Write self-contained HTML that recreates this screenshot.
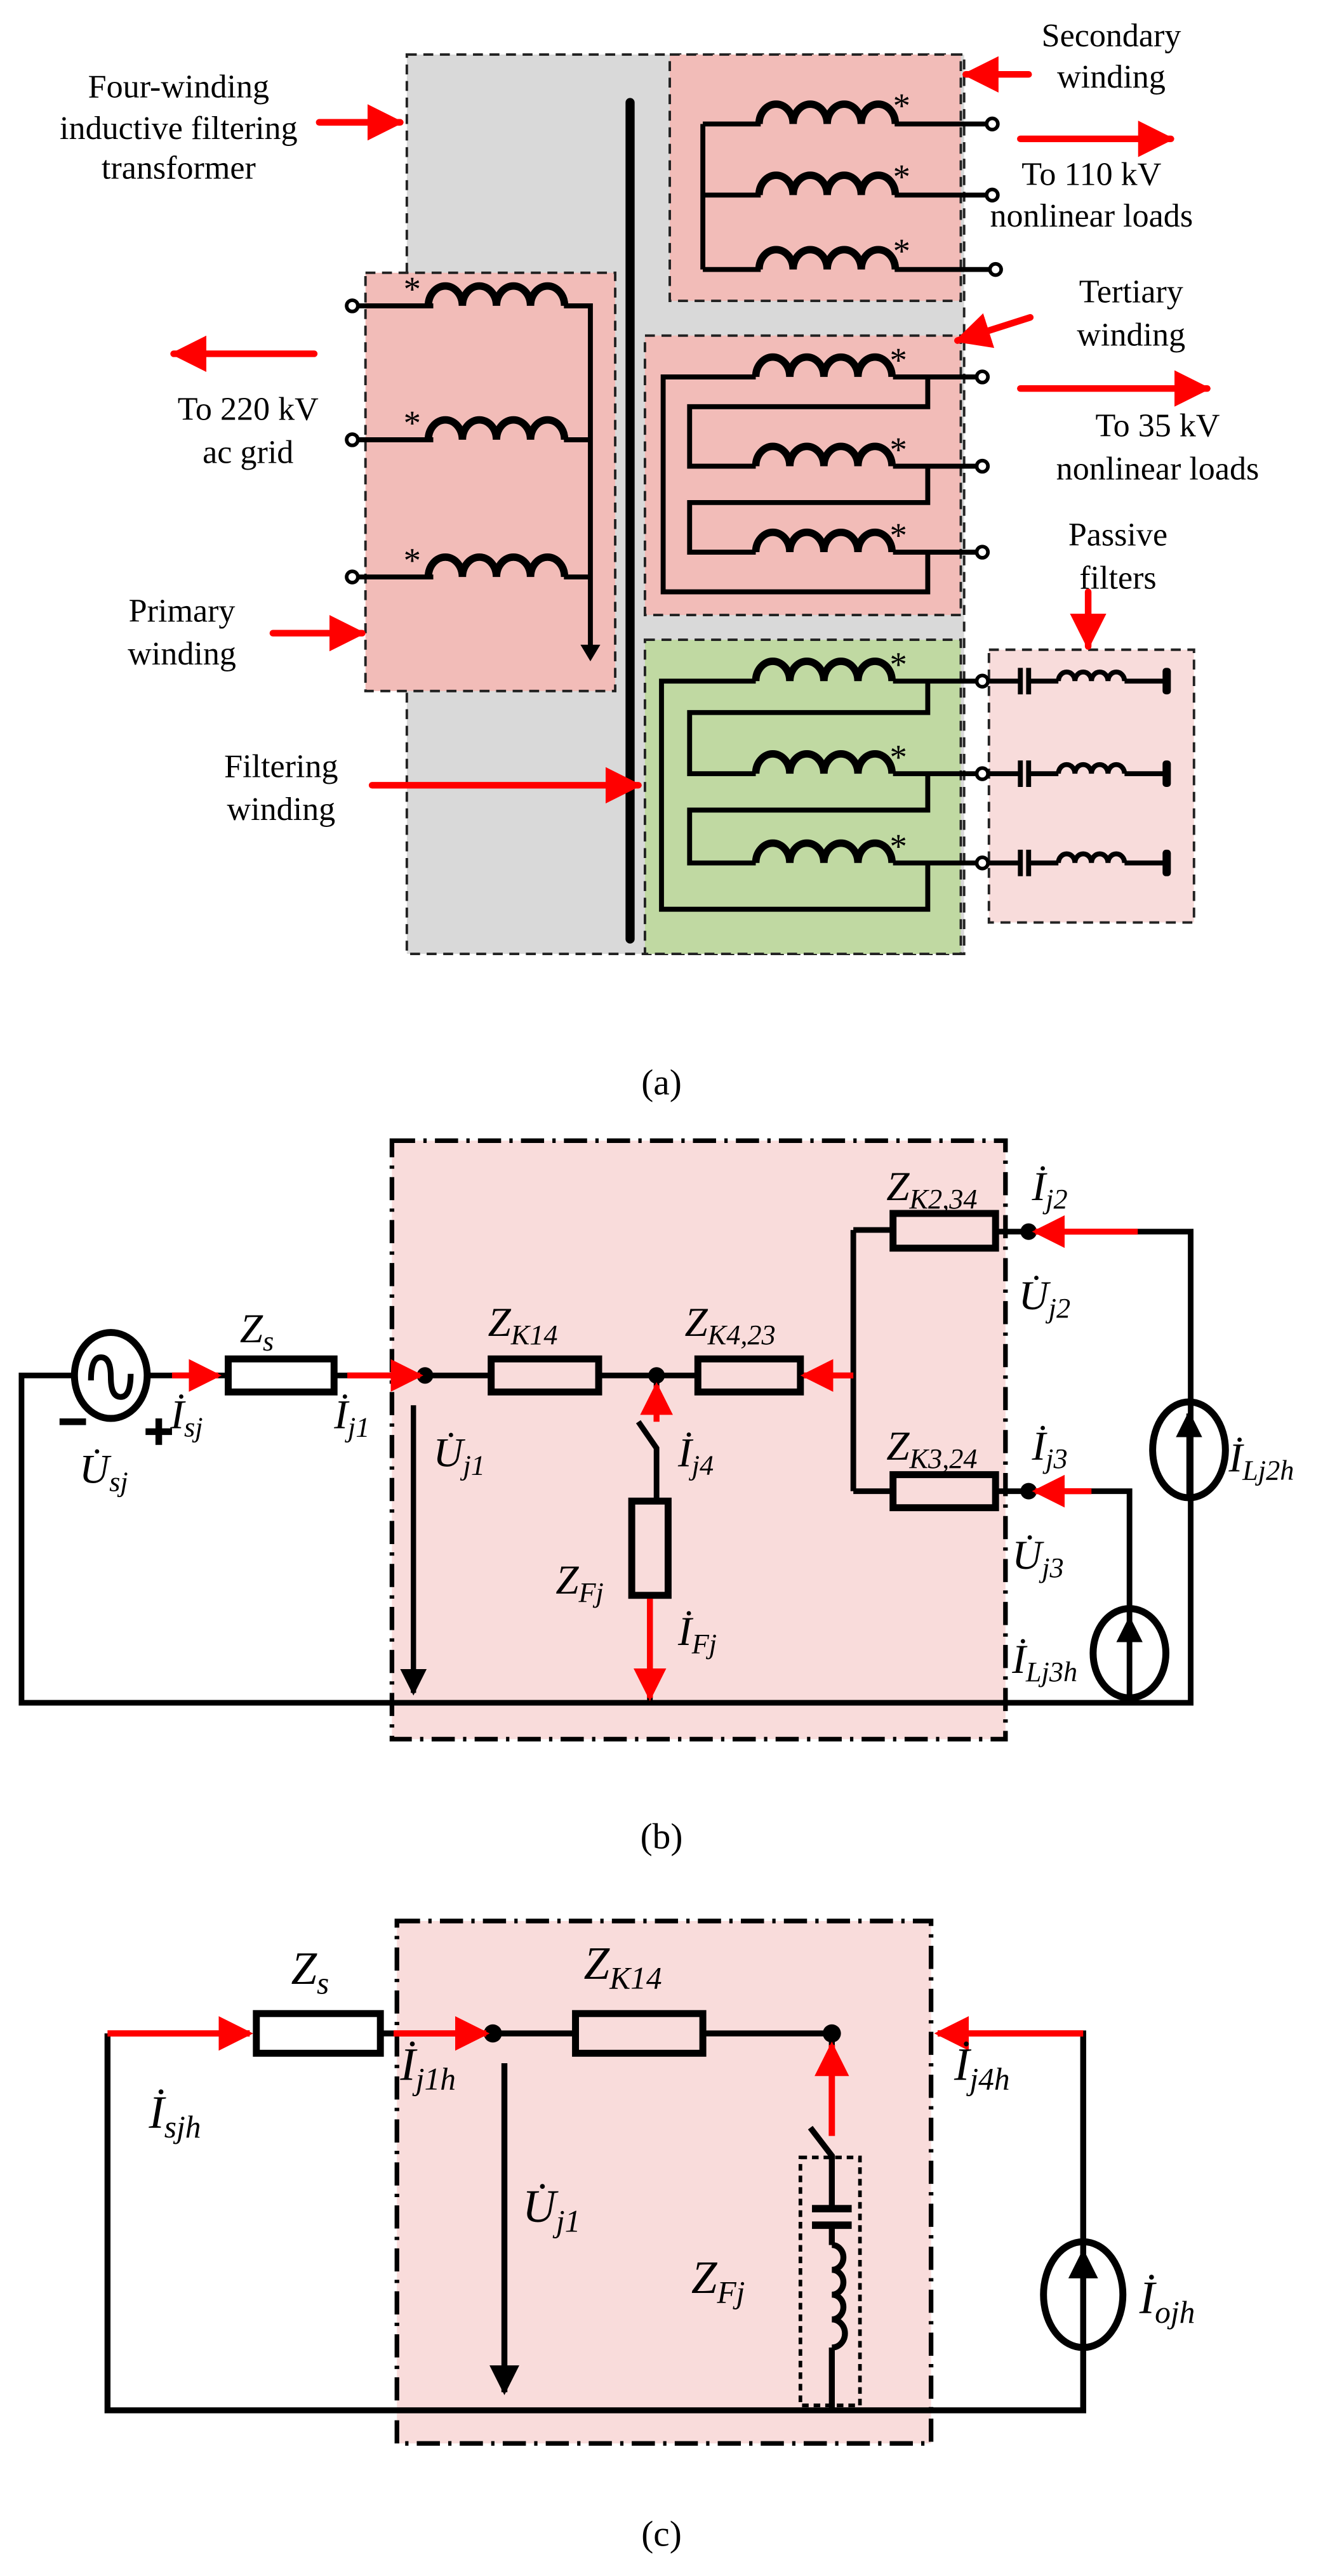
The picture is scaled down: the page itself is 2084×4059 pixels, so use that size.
<!DOCTYPE html>
<html><head><meta charset="utf-8"><style>
html,body{margin:0;padding:0;background:#fff;}
svg{display:block;font-family:"Liberation Serif",serif;}
text{font-family:"Liberation Serif",serif;fill:#000;}
.it{font-style:italic;}
</style></head><body>
<svg width="2084" height="4059" viewBox="0 0 800 1558.2" xmlns="http://www.w3.org/2000/svg" font-family="Liberation Serif, serif">
<defs>
<marker id="ra" viewBox="0 0 10 10" refX="9" refY="5" markerWidth="5.5" markerHeight="5.5" orient="auto" markerUnits="strokeWidth"><path d="M0,0 L10,5 L0,10 z" fill="#f00"/></marker>
<marker id="ba" viewBox="0 0 10 10" refX="9" refY="5" markerWidth="5" markerHeight="5" orient="auto" markerUnits="strokeWidth"><path d="M0,0 L10,5 L0,10 z" fill="#000"/></marker>
<g id="coil"><path d="M0,0 a10.3,12 0 0 1 20.6,0 a10.3,12 0 0 1 20.6,0 a10.3,12 0 0 1 20.6,0 a10.3,12 0 0 1 20.6,0" fill="none" stroke="#000" stroke-width="4.5"/></g>
<g id="scoil"><path d="M0,0 a5,5.5 0 0 1 10,0 a5,5.5 0 0 1 10,0 a5,5.5 0 0 1 10,0 a5,5.5 0 0 1 10,0" fill="none" stroke="#000" stroke-width="3"/></g>
</defs>

<!-- ===== (a) ===== -->
<g stroke="#222" stroke-width="1.5" stroke-dasharray="6,4">
<rect x="246" y="33" width="337" height="544" fill="#d9d9d9"/>
<rect x="405" y="33" width="176" height="149" fill="#f2bcb8"/>
<rect x="221" y="165" width="151" height="253" fill="#f2bcb8"/>
<rect x="390" y="203" width="191" height="169" fill="#f2bcb8"/>
<rect x="390" y="387" width="191" height="190" fill="#c0d9a2"/>
<rect x="598" y="393" width="124" height="165" fill="#f8dcdb"/>
</g>
<line x1="381" y1="62" x2="381" y2="568" stroke="#000" stroke-width="5.5" stroke-linecap="round"/>

<g stroke="#000" stroke-width="3" fill="none">
<!-- secondary -->
<path d="M425,75 V163 M425,75 H460 M425,118 H460 M425,163 H460 M541,75 H597 M541,118 H597 M541,163 H599"/>
<!-- tertiary -->
<path d="M457,228 H401 V358 H561 V334 M540,228 H591 M561,228 V246 H417 V282 H457 M540,282 H591 M561,282 V304 H417 V334 H457 M540,334 H591"/>
<!-- green -->
<path d="M457,412 H400 V550 H561 V522 M540,412 H591 M561,412 V431 H417 V468 H457 M540,468 H591 M561,468 V490 H417 V522 H457 M540,522 H591"/>
<!-- filters -->
<path d="M597,412 H617 M622,412 H640 M680,412 H704 M597,468 H617 M622,468 H640 M680,468 H704 M597,522 H617 M622,522 H640 M680,522 H704"/>
<path d="M617,404 V420 M622,404 V420 M617,460 V476 M622,460 V476 M617,514 V530 M622,514 V530"/>
<!-- primary -->
<path d="M216,185 H262 M216,266 H262 M216,349 H262 M341,185 H357 V392 M341,266 H357 M341,349 H357"/>
</g>
<path d="M351,390 L357,400 L363,390 z" fill="#000"/>
<g fill="#000"><rect x="703" y="404" width="5" height="16" rx="2"/><rect x="703" y="460" width="5" height="16" rx="2"/><rect x="703" y="514" width="5" height="16" rx="2"/></g>
<g fill="#fff" stroke="#000" stroke-width="2.2">
<circle cx="600" cy="75" r="3.4"/><circle cx="600" cy="118" r="3.4"/><circle cx="602" cy="163" r="3.4"/>
<circle cx="594" cy="228" r="3.4"/><circle cx="594" cy="282" r="3.4"/><circle cx="594" cy="334" r="3.4"/>
<circle cx="594" cy="412" r="3.4"/><circle cx="594" cy="468" r="3.4"/><circle cx="594" cy="522" r="3.4"/>
<circle cx="213" cy="185" r="3.4"/><circle cx="213" cy="266" r="3.4"/><circle cx="213" cy="349" r="3.4"/>
</g>
<use href="#coil" x="459" y="75"/><use href="#coil" x="459" y="118"/><use href="#coil" x="459" y="163"/>
<use href="#coil" x="457" y="228"/><use href="#coil" x="457" y="282"/><use href="#coil" x="457" y="334"/>
<use href="#coil" x="457" y="412"/><use href="#coil" x="457" y="468"/><use href="#coil" x="457" y="522"/>
<use href="#coil" x="259" y="185"/><use href="#coil" x="259" y="266"/><use href="#coil" x="259" y="349"/>
<use href="#scoil" x="640" y="412"/><use href="#scoil" x="640" y="468"/><use href="#scoil" x="640" y="522"/>
<g font-size="21">
<text x="540" y="71">*</text><text x="540" y="114">*</text><text x="540" y="159">*</text>
<text x="538" y="225">*</text><text x="538" y="279">*</text><text x="538" y="331">*</text>
<text x="538" y="409">*</text><text x="538" y="465">*</text><text x="538" y="519">*</text>
<text x="244" y="182">*</text><text x="244" y="263">*</text><text x="244" y="346">*</text>
</g>
<g stroke="#f00" stroke-width="4" fill="none" stroke-linecap="round">
<line x1="193" y1="74" x2="242" y2="74" marker-end="url(#ra)"/>
<line x1="190" y1="214" x2="105" y2="214" marker-end="url(#ra)"/>
<line x1="165" y1="383" x2="219" y2="383" marker-end="url(#ra)"/>
<line x1="225" y1="475" x2="386" y2="475" marker-end="url(#ra)"/>
<line x1="622" y1="45" x2="584" y2="45" marker-end="url(#ra)"/>
<line x1="617" y1="84" x2="708" y2="84" marker-end="url(#ra)"/>
<line x1="623" y1="192" x2="579" y2="206" marker-end="url(#ra)"/>
<line x1="617" y1="235" x2="730" y2="235" marker-end="url(#ra)"/>
<line x1="658" y1="358" x2="658" y2="391" marker-end="url(#ra)"/>
</g>
<g font-size="20" text-anchor="middle">
<text x="108" y="59">Four-winding</text><text x="108" y="84">inductive filtering</text><text x="108" y="108">transformer</text>
<text x="150" y="254">To 220 kV</text><text x="150" y="280">ac grid</text>
<text x="110" y="376">Primary</text><text x="110" y="402">winding</text>
<text x="170" y="470">Filtering</text><text x="170" y="496">winding</text>
<text x="672" y="28">Secondary</text><text x="672" y="53">winding</text>
<text x="660" y="112">To 110 kV</text><text x="660" y="137">nonlinear loads</text>
<text x="684" y="183">Tertiary</text><text x="684" y="209">winding</text>
<text x="700" y="264">To 35 kV</text><text x="700" y="290">nonlinear loads</text>
<text x="676" y="330">Passive</text><text x="676" y="356">filters</text>
<text x="400" y="662" font-size="22">(a)</text>
</g>

<!-- ===== (b) ===== -->
<rect x="237" y="690" width="371" height="362" fill="#f9dcdb" stroke="#000" stroke-width="2.8" stroke-dasharray="14,5,2,5"/>
<g stroke="#000" stroke-width="3.4" fill="none">
<path d="M45,832 H13 V1030 H720 V745 H622 M89,832 H138 M202,832 H297 M362,832 H422 M484,832 H516 M516,744 V902 M516,744 H540 M516,902 H540 M602,745 H622 M602,902 H683 V1030"/>
<path d="M397,832 V855 M386,860 L397,876 V908 M393,965 V1030"/>
</g>
<g stroke="#000" stroke-width="4.2" fill="none">
<rect x="138" y="822" width="64" height="20"/><rect x="297" y="822" width="65" height="20"/><rect x="422" y="822" width="62" height="20"/>
<rect x="540" y="734" width="62" height="21"/><rect x="540" y="892" width="62" height="20"/>
<rect x="382" y="908" width="22" height="57"/>
<ellipse cx="67" cy="832" rx="22" ry="26"/>
<path d="M55,835 q0,-14 6,-14 q6,0 6,12 q0,12 6,12 q6,0 6,-14" stroke-width="3.5"/>
<ellipse cx="719" cy="877" rx="22" ry="29"/><ellipse cx="683" cy="1000" rx="22" ry="27"/>
</g>
<g stroke="#000" stroke-width="3.2" fill="none">
<line x1="719" y1="905" x2="719" y2="855" marker-end="url(#ba)"/>
<line x1="683" y1="1026" x2="683" y2="979" marker-end="url(#ba)"/>
<line x1="250" y1="850" x2="250" y2="1024" marker-end="url(#ba)"/>
<path d="M36,860 H52 M88,866 H104 M96,858 V874" stroke-width="4"/>
</g>
<g fill="#000"><circle cx="257" cy="832" r="5"/><circle cx="397" cy="832" r="5"/><circle cx="622" cy="745" r="5"/><circle cx="622" cy="902" r="5"/></g>
<g stroke="#f00" stroke-width="3.6" fill="none">
<line x1="104" y1="832" x2="132" y2="832" marker-end="url(#ra)"/>
<line x1="210" y1="832" x2="254" y2="832" marker-end="url(#ra)"/>
<line x1="516" y1="832" x2="486" y2="832" marker-end="url(#ra)"/>
<line x1="397" y1="860" x2="397" y2="838" marker-end="url(#ra)"/>
<line x1="393" y1="967" x2="393" y2="1027" marker-end="url(#ra)"/>
<line x1="688" y1="745" x2="626" y2="745" marker-end="url(#ra)"/>
<line x1="660" y1="902" x2="626" y2="902" marker-end="url(#ra)"/>
</g>
<g font-size="25" class="it">
<text x="145" y="812">Z<tspan font-size="17" dy="5">s</tspan></text>
<text x="295" y="808">Z<tspan font-size="17" dy="5">K14</tspan></text>
<text x="414" y="808">Z<tspan font-size="17" dy="5">K4,23</tspan></text>
<text x="536" y="726">Z<tspan font-size="17" dy="5">K2,34</tspan></text>
<text x="536" y="883">Z<tspan font-size="17" dy="5">K3,24</tspan></text>
<text x="624" y="726">İ<tspan font-size="17" dy="5">j2</tspan></text>
<text x="616" y="792">U̇<tspan font-size="17" dy="5">j2</tspan></text>
<text x="624" y="883">İ<tspan font-size="17" dy="5">j3</tspan></text>
<text x="612" y="949">U̇<tspan font-size="17" dy="5">j3</tspan></text>
<text x="612" y="1012">İ<tspan font-size="17" dy="5">Lj3h</tspan></text>
<text x="743" y="890">İ<tspan font-size="17" dy="5">Lj2h</tspan></text>
<text x="410" y="995">İ<tspan font-size="17" dy="5">Fj</tspan></text>
<text x="336" y="964">Z<tspan font-size="17" dy="5">Fj</tspan></text>
<text x="410" y="887">İ<tspan font-size="17" dy="5">j4</tspan></text>
<text x="262" y="887">U̇<tspan font-size="17" dy="5">j1</tspan></text>
<text x="202" y="864">İ<tspan font-size="17" dy="5">j1</tspan></text>
<text x="103" y="864">İ<tspan font-size="17" dy="5">sj</tspan></text>
<text x="48" y="897">U̇<tspan font-size="17" dy="5">sj</tspan></text>
</g>
<text x="400" y="1118" font-size="22" text-anchor="middle">(b)</text>

<!-- ===== (c) ===== -->
<rect x="240" y="1162" width="323" height="316" fill="#f9dcdb" stroke="#000" stroke-width="2.8" stroke-dasharray="14,5,2,5"/>
<g stroke="#000" stroke-width="3.6" fill="none">
<path d="M65,1230 V1458 H655 V1230 H600 M230,1230 H238 M425,1230 H503 V1240 M298,1230 H348"/>
<path d="M490,1287 L503,1304 V1336 M503,1346 V1358 M503,1420 V1458"/>
<path d="M491,1336 H515 M491,1346 H515" stroke-width="4.5"/>
<path d="M503,1358 a7,7.5 0 0 1 0,15 a7,7.5 0 0 1 0,15 a7,7.5 0 0 1 0,15 a7,7.5 0 0 1 0,17"/>
<rect x="155" y="1218" width="75" height="24" stroke-width="4.2"/><rect x="348" y="1218" width="77" height="24" stroke-width="4.2"/>
<ellipse cx="655" cy="1388" rx="24" ry="32" stroke-width="4.2"/>
<line x1="655" y1="1420" x2="655" y2="1362" marker-end="url(#ba)"/>
<line x1="305" y1="1248" x2="305" y2="1447" marker-end="url(#ba)"/>
<rect x="484" y="1305" width="36" height="150" stroke-width="2.2" stroke-dasharray="4,3"/>
</g>
<g fill="#000"><circle cx="298" cy="1230" r="5.5"/><circle cx="503" cy="1230" r="5.5"/></g>
<g stroke="#f00" stroke-width="3.8" fill="none">
<line x1="65" y1="1230" x2="151" y2="1230" marker-end="url(#ra)"/>
<line x1="238" y1="1230" x2="294" y2="1230" marker-end="url(#ra)"/>
<line x1="655" y1="1230" x2="567" y2="1230" marker-end="url(#ra)"/>
<line x1="503" y1="1292" x2="503" y2="1237" marker-end="url(#ra)"/>
</g>
<g font-size="28" class="it">
<text x="176" y="1200">Z<tspan font-size="19" dy="6">s</tspan></text>
<text x="353" y="1197">Z<tspan font-size="19" dy="6">K14</tspan></text>
<text x="90" y="1287">İ<tspan font-size="19" dy="6">sjh</tspan></text>
<text x="242" y="1258">İ<tspan font-size="19" dy="6">j1h</tspan></text>
<text x="577" y="1258">İ<tspan font-size="19" dy="6">j4h</tspan></text>
<text x="316" y="1344">U̇<tspan font-size="19" dy="6">j1</tspan></text>
<text x="418" y="1387">Z<tspan font-size="19" dy="6">Fj</tspan></text>
<text x="689" y="1399">İ<tspan font-size="19" dy="6">ojh</tspan></text>
</g>
<text x="400" y="1540" font-size="22" text-anchor="middle">(c)</text>
</svg>
</body></html>
